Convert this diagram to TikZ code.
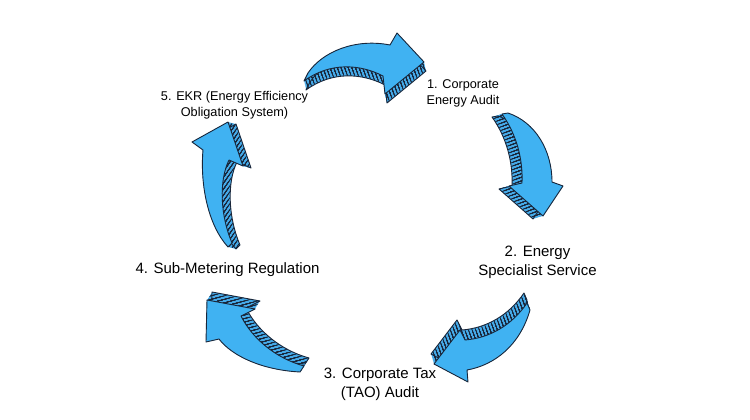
\documentclass[tikz,border=0pt]{standalone}
\usepackage{fontspec}
\setmainfont{Liberation Sans}
\definecolor{frontblue}{RGB}{64,178,242}
\definecolor{sideblue}{RGB}{70,170,232}
\definecolor{edgecol}{RGB}{25,38,58}
\tikzset{
  edge/.style={draw=edgecol,line width=0.9pt,line join=round},
  hatchline/.style={draw=edgecol,line width=0.5pt},
  lblS/.style={align=center,inner sep=0pt,font=\fontsize{12.7}{16}\selectfont,text=black},
  lblL/.style={align=center,inner sep=0pt,font=\fontsize{15}{18.8}\selectfont,text=black}
}
% #1 path, #2 dx, #3 dy, #4 hatch angle, #5 centre of arrow
\newcommand\tdarrow[5]{%
  \foreach \k in {0,...,16}{\fill[sideblue,shift={(\k*#2/16,\k*#3/16)}] #1;}
  \foreach \k in {0,...,16}{%
    \begin{scope}
      \clip[shift={(\k*#2/16,\k*#3/16)}] #1;
      \begin{scope}[shift={#5},rotate=#4]
        \foreach \t in {-90,-86.6,...,90}{\draw[hatchline] (-90,\t) -- (90,\t);}
      \end{scope}
    \end{scope}}
  \draw[edge,shift={(#2,#3)}] #1;
  \fill[frontblue] #1;
  \draw[edge] #1;
}
\begin{document}
\begin{tikzpicture}[x=1pt,y=-1pt]
\path[use as bounding box] (0,0) rectangle (750,420);
% arrow 1 (top)
\tdarrow{(304,81) -- (308,73) .. controls (322,52) and (355,38) .. (390,45) -- (397,33) -- (424,62) -- (385,94) -- (383,76) .. controls (360,64) and (330,62) .. cycle}{2}{9}{-70}{(364,66)}
% arrow 2 (right)
\tdarrow{(502,114) -- (508,113) .. controls (535,122) and (552,150) .. (552,182) -- (563,186) -- (543,216) -- (509,186) -- (522,183) .. controls (523,160) and (517,135) .. cycle}{-10}{3}{20}{(530,165)}
% arrow 3 (bottom right)
\tdarrow{(530,310) -- (527,303) .. controls (512,325) and (490,338) .. (465,340) -- (460,330) -- (434,364) -- (468,382) -- (467,370) .. controls (495,365) and (520,345) .. cycle}{-3}{-10}{-70}{(482,342)}
% arrow 4 (bottom left)
\tdarrow{(207,300) -- (255,309) -- (241,316) .. controls (252,338) and (275,358) .. (304,366) -- (300,372) .. controls (262,370) and (232,356) .. (219,339) -- (206,342) -- cycle}{5}{-8}{15}{(255,335)}
% arrow 5 (left)
\tdarrow{(228,122) -- (192,142) -- (203,150) .. controls (200,185) and (208,225) .. (228,247) -- (232,243) .. controls (220,215) and (219,180) .. (229,160) -- (243,166) -- cycle}{8}{2}{55}{(220,185)}
% labels
\node[lblS] (t1) at (463,93.5) {1. Corporate\\Energy Audit};
\node[lblL] (t2) at (537.5,262.5) {2. Energy\\Specialist Service};
\node[lblL] (t3) at (380,384) {3. Corporate Tax\\(TAO) Audit};
\node[lblL] (t4) at (227.5,270) {4. Sub-Metering Regulation};
\node[lblS] (t5) at (234.5,105) {5. EKR (Energy Efficiency\\Obligation System)};
\end{tikzpicture}
\end{document}
